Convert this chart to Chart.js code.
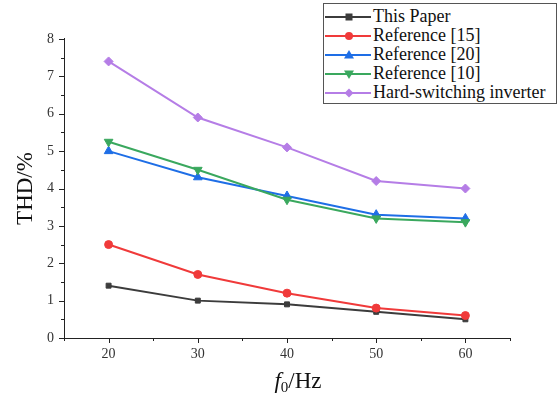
<!DOCTYPE html>
<html><head><meta charset="utf-8">
<script src="https://cdn.jsdelivr.net/npm/chart.js@4/dist/chart.umd.min.js"></script>
<style>
html,body{margin:0;padding:0;background:#fff;}
#wrap{position:relative;width:560px;height:396px;}
#legend{position:absolute;left:323px;top:3px;width:234px;height:101px;border:1px solid #555;background:#fff;box-sizing:border-box;font-family:"Liberation Serif","Times New Roman",serif;font-size:18px;color:#111;}
.row{position:absolute;left:0;height:19px;display:flex;align-items:center;white-space:nowrap;}
.row svg{margin-left:1px;margin-right:2px;}
#xtitle{position:absolute;left:0;width:596px;top:368px;text-align:center;font-family:"Liberation Serif","Times New Roman",serif;font-size:23px;color:#111;}
#xtitle sub{font-size:15px;vertical-align:-4px;}
</style></head>
<body><div id="wrap"><canvas id="c" width="560" height="396"></canvas><div id="legend"></div><div id="xtitle"><i>f</i><sub>0</sub>/Hz</div></div>
<script>
const frequencies = [20, 30, 40, 50, 60];
const thisPaper = [1.4, 1.0, 0.9, 0.7, 0.5];
const reference15 = [2.5, 1.7, 1.2, 0.8, 0.6];
const reference20 = [5.0, 4.3, 3.8, 3.3, 3.2];
const reference10 = [5.25, 4.5, 3.7, 3.2, 3.1];
const hardSwitching = [7.4, 5.9, 5.1, 4.2, 4.0];
const seriesNames = ["This Paper", "Reference [15]", "Reference [20]", "Reference [10]", "Hard-switching inverter"];
const xTickLabels = [20, 30, 40, 50, 60];
const yTickLabels = [0, 1, 2, 3, 4, 5, 6, 7, 8];

const colors = ["#3c3c3c", "#f03a3a", "#1e6ee6", "#3aa85e", "#b57de6"];
const styles = [
  {pointStyle:"rect", radius:3.5, rotation:0},
  {pointStyle:"circle", radius:4, rotation:0},
  {pointStyle:"triangle", radius:5, rotation:0},
  {pointStyle:"triangle", radius:5, rotation:180},
  {pointStyle:"rectRot", radius:4.5, rotation:0}
];
const allSeries = [thisPaper, reference15, reference20, reference10, hardSwitching];

const datasets = allSeries.map((vals, i) => ({
  label: seriesNames[i],
  data: frequencies.map((f, j) => ({x: f, y: vals[j]})),
  borderColor: colors[i],
  backgroundColor: colors[i],
  borderWidth: 2,
  pointStyle: styles[i].pointStyle,
  pointRadius: styles[i].radius,
  pointRotation: styles[i].rotation,
  pointBorderWidth: 1,
  tension: 0,
  order: 5 - i
}));

const tickPlugin = {
  id: "ticks",
  afterDraw(chart) {
    const ctx = chart.ctx, xs = chart.scales.x, ys = chart.scales.y;
    const a = chart.chartArea;
    ctx.save();
    ctx.strokeStyle = "#222";
    ctx.lineWidth = 1;
    ctx.beginPath();
    ctx.moveTo(a.left + 0.5, a.top - 1); ctx.lineTo(a.left + 0.5, a.bottom + 0.5);
    ctx.lineTo(a.right, a.bottom + 0.5);
    for (let v = 15; v <= 65; v += 5) {
      const px = Math.round(xs.getPixelForValue(v)) + 0.5;
      const len = (v % 10 === 0) ? 5 : 3;
      ctx.moveTo(px, a.bottom); ctx.lineTo(px, a.bottom + len);
    }
    for (let v = 0; v <= 8; v += 0.5) {
      const py = Math.round(ys.getPixelForValue(v)) + 0.5;
      const len = (Number.isInteger(v)) ? 5 : 3;
      ctx.moveTo(a.left, py); ctx.lineTo(a.left - len, py);
    }
    ctx.stroke();
    ctx.restore();
  }
};

const tickFont = {family: "'Liberation Serif', 'Times New Roman', serif", size: 14};

new Chart(document.getElementById("c"), {
  type: "line",
  data: {datasets},
  options: {
    responsive: false,
    animation: false,
    layout: {padding: {top: 39, right: 50, left: 0, bottom: 0}},
    plugins: {legend: {display: false}, tooltip: {enabled: false}},
    scales: {
      x: {
        type: "linear", min: 15, max: 65,
        afterFit: s => { s.height = 58; },
        afterBuildTicks: s => { s.ticks = xTickLabels.map(v => ({value: v})); },
        grid: {display: false, drawTicks: false},
        border: {display: false},
        ticks: {padding: 8, color: "#333", font: tickFont}
      },
      y: {
        min: 0, max: 8,
        afterFit: s => { s.width = 64; },
        afterBuildTicks: s => { s.ticks = yTickLabels.map(v => ({value: v})); },
        grid: {display: false, drawTicks: false},
        border: {display: false},
        ticks: {padding: 10, color: "#333", font: tickFont},
        title: {display: true, text: "THD/%", color: "#111", font: {family: "'Liberation Serif', serif", size: 23}, padding: {top: 12, bottom: 0}}
      }
    }
  },
  plugins: [tickPlugin]
});

// legend
const lg = document.getElementById("legend");
const markerSvg = (i) => {
  const c = colors[i];
  let m = "";
  const cx = 24, cy = 9;
  if (i === 0) m = `<rect x="${cx-3.5}" y="${cy-3.5}" width="7" height="7" fill="${c}"/>`;
  if (i === 1) m = `<circle cx="${cx}" cy="${cy}" r="4" fill="${c}"/>`;
  if (i === 2) m = `<polygon points="${cx},${cy-5} ${cx+5},${cy+3.5} ${cx-5},${cy+3.5}" fill="${c}"/>`;
  if (i === 3) m = `<polygon points="${cx},${cy+5} ${cx+5},${cy-3.5} ${cx-5},${cy-3.5}" fill="${c}"/>`;
  if (i === 4) m = `<polygon points="${cx},${cy-4.5} ${cx+4.5},${cy} ${cx},${cy+4.5} ${cx-4.5},${cy}" fill="${c}"/>`;
  return `<svg width="46" height="18"><line x1="0" y1="${cy}" x2="46" y2="${cy}" stroke="${c}" stroke-width="2"/>${m}</svg>`;
};
seriesNames.forEach((n, i) => {
  const d = document.createElement("div");
  d.className = "row";
  d.style.top = (3 + i * 19) + "px";
  d.innerHTML = markerSvg(i) + "<span>" + n + "</span>";
  lg.appendChild(d);
});
</script></body></html>
